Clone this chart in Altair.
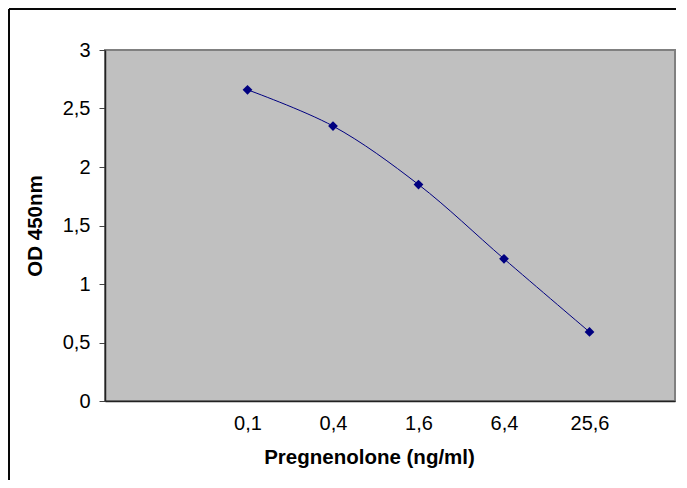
import json
import altair as alt
import pandas as pd

concentrations = ["0,1", "0,4", "1,6", "6,4", "25,6"]
od_values = [2.66, 2.35, 1.85, 1.215, 0.59]
positions = [1, 2, 3, 4, 5]

df = pd.DataFrame({"pos": positions, "conc": concentrations, "od": od_values})

label_expr = json.dumps(concentrations) + "[datum.value - 1]"

x_enc = alt.X(
    "pos:Q",
    scale=alt.Scale(domain=[-2 / 3, 6], nice=False, zero=False),
    axis=alt.Axis(
        values=positions,
        labelExpr=label_expr,
        title="Pregnenolone (ng/ml)",
        ticks=False,
        tickSize=0,
        grid=False,
        labelPadding=12,
        titlePadding=14,
        titleX=264,
        domainColor="#222222",
        domainWidth=1.5,
    ),
)
y_enc = alt.Y(
    "od:Q",
    scale=alt.Scale(domain=[0, 3], nice=False),
    axis=alt.Axis(
        values=[0, 0.5, 1, 1.5, 2, 2.5, 3],
        format="~g",
        labelExpr="replace(datum.label, '.', ',')",
        title="OD 450nm",
        grid=False,
        tickSize=6,
        tickColor="#444444",
        labelPadding=9,
        titlePadding=17,
        domainColor="#222222",
        domainWidth=1.5,
    ),
)

base = alt.Chart(df)

frame_top = base.mark_rule(color="black", strokeWidth=1).encode(
    x=alt.value(-96), x2=alt.value(800), y=alt.value(-41)
)
frame_left = base.mark_rule(color="black", strokeWidth=1).encode(
    x=alt.value(-96), y=alt.value(-41), y2=alt.value(600)
)

line = base.mark_line(color="#000080", strokeWidth=1, interpolate="catmull-rom").encode(
    x=x_enc, y=y_enc
)
points = base.mark_point(
    shape="diamond", filled=True, color="#000080", size=95, opacity=1
).encode(x="pos:Q", y="od:Q")

chart = (
    alt.layer(frame_top, frame_left, line, points)
    .properties(
        width=570,
        height=351,
        autosize=alt.AutoSizeParams(type="none"),
        padding={"left": 97, "top": 42, "right": 1, "bottom": 79},
    )
    .configure_view(fill="#C0C0C0", stroke="#808080", strokeWidth=2)
    .configure_axis(
        labelFont="Liberation Sans",
        titleFont="Liberation Sans",
        labelFontSize=20,
        titleFontSize=20.5,
        labelColor="black",
        titleColor="black",
        titleFontWeight="bold",
    )
)

chart.save("out.html", embed_options={"renderer": "svg", "actions": False})
